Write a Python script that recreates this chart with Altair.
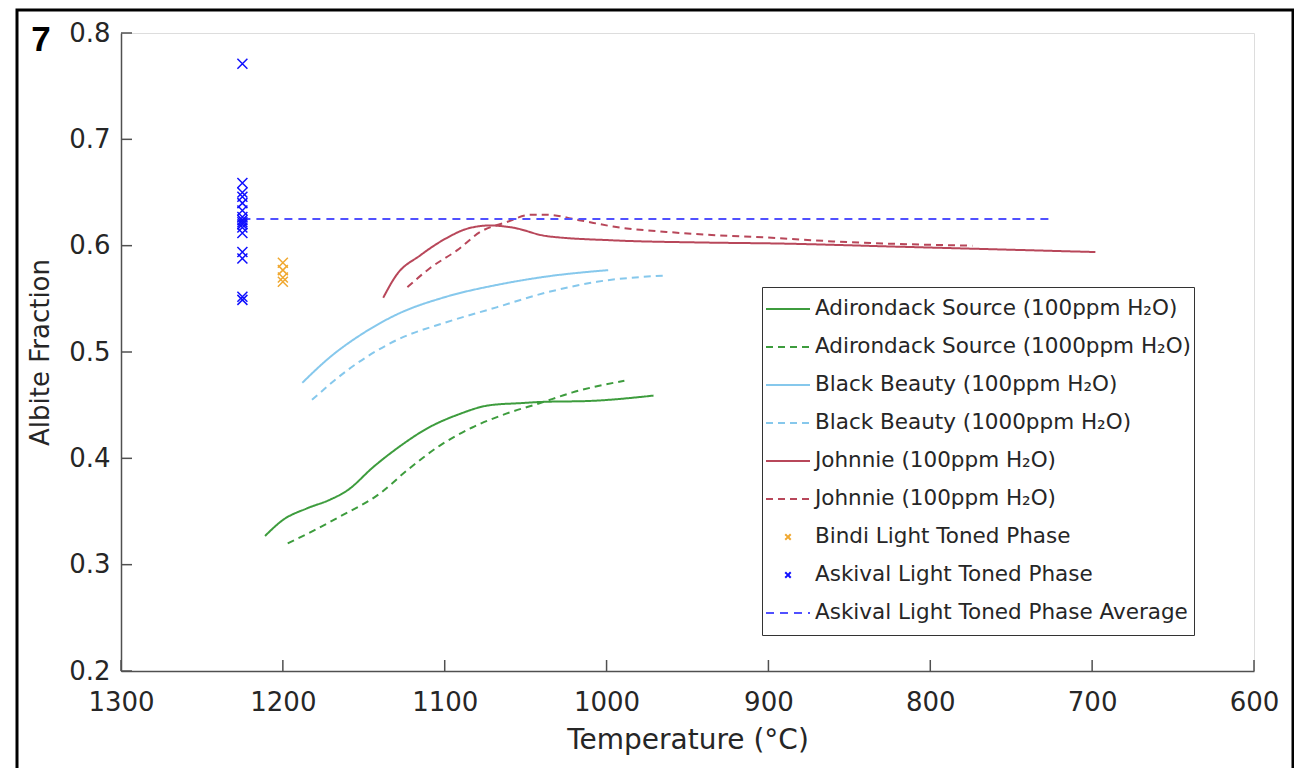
import altair as alt
import pandas as pd

# ---------------- data ----------------
ad100_T = [1211, 1200, 1185, 1171, 1160, 1144, 1128, 1111, 1092, 1072, 1052, 1041, 1010, 971]
ad100_y = [0.327, 0.342, 0.353, 0.361, 0.370, 0.392, 0.411, 0.428, 0.441, 0.450, 0.452, 0.453, 0.454, 0.459]

ad1000_T = [1197, 1181, 1165, 1140, 1123, 1103, 1083, 1062, 1041, 1021, 989]
ad1000_y = [0.320, 0.332, 0.345, 0.367, 0.389, 0.412, 0.429, 0.442, 0.452, 0.462, 0.473]

bb100_T = [1188, 1171, 1150, 1130, 1099, 1068, 1037, 999]
bb100_y = [0.471, 0.495, 0.518, 0.535, 0.552, 0.563, 0.571, 0.577]

bb1000_T = [1182, 1160, 1130, 1099, 1068, 1037, 1006, 963]
bb1000_y = [0.455, 0.483, 0.511, 0.528, 0.542, 0.556, 0.566, 0.572]

jo100_T = [1138, 1130, 1115, 1099, 1086, 1072, 1058, 1037, 996, 942, 893, 819, 698]
jo100_y = [0.551, 0.572, 0.591, 0.607, 0.616, 0.619, 0.617, 0.609, 0.605, 0.603, 0.602, 0.599, 0.594]

jo100b_T = [1123, 1109, 1092, 1078, 1062, 1047, 1037, 1017, 996, 955, 893, 860, 774]
jo100b_y = [0.561, 0.579, 0.596, 0.613, 0.622, 0.629, 0.629, 0.624, 0.618, 0.612, 0.607, 0.604, 0.600]

bindi_T = [1200, 1200, 1200, 1200]
bindi_y = [0.584, 0.577, 0.570, 0.566]

askival_T = [1225] * 16
askival_y = [0.771, 0.659, 0.650, 0.646, 0.640, 0.633, 0.627, 0.624, 0.622, 0.620,
             0.617, 0.612, 0.594, 0.588, 0.552, 0.549]

avg_T = [1225, 727]
avg_y = [0.625, 0.625]

x_ticks = [1300, 1200, 1100, 1000, 900, 800, 700, 600]
y_ticks = [0.2, 0.3, 0.4, 0.5, 0.6, 0.7, 0.8]

keys = ["s0", "s1", "s2", "s3", "s4", "s5", "s6", "s7", "s8"]
labels = [
    "Adirondack Source (100ppm H₂O)",
    "Adirondack Source (1000ppm H₂O)",
    "Black Beauty (100ppm H₂O)",
    "Black Beauty (1000ppm H₂O)",
    "Johnnie (100ppm H₂O)",
    "Johnnie (100ppm H₂O)",
    "Bindi Light Toned Phase",
    "Askival Light Toned Phase",
    "Askival Light Toned Phase Average",
]
colors = ["#3d9c3d", "#3d9c3d", "#86c8ec", "#86c8ec", "#b8475a", "#b8475a",
          "#f0a830", "#1010ff", "#5050ff"]
XPATH = "M-0.125,-0.125L0.125,0.125M-0.125,0.125L0.125,-0.125"
shapes = ["stroke"] * 6 + [XPATH, XPATH, "stroke"]
dashes = [[1, 0], [7, 5], [1, 0], [7, 5], [1, 0], [7, 5], [1, 0], [1, 0], [8, 6]]

# ---------------- tables ----------------
line_rows = []
for key, T, Y in [("s0", ad100_T, ad100_y), ("s1", ad1000_T, ad1000_y),
                  ("s2", bb100_T, bb100_y), ("s3", bb1000_T, bb1000_y),
                  ("s4", jo100_T, jo100_y), ("s5", jo100b_T, jo100b_y),
                  ("s8", avg_T, avg_y)]:
    for i, (t, y) in enumerate(zip(T, Y)):
        line_rows.append({"series": key, "T": t, "A": y, "idx": i})
lines_df = pd.DataFrame(line_rows)

pt_rows = []
for key, T, Y in [("s6", bindi_T, bindi_y), ("s7", askival_T, askival_y)]:
    for t, y in zip(T, Y):
        pt_rows.append({"series": key, "T": t, "A": y})
pts_df = pd.DataFrame(pt_rows)

W, H = 1133, 638
FONT = "DejaVu Sans"
TXT = "#262626"
AX = "#505050"

label_expr = "[" + ",".join("'" + l + "'" for l in labels) + "][indexof([" + \
    ",".join("'" + k + "'" for k in keys) + "], datum.label)]"

legend = alt.Legend(
    title=None, orient="none", legendX=641, legendY=254,
    labelExpr=label_expr, labelFont=FONT, labelFontSize=21.5, labelColor=TXT,
    symbolSize=1936, symbolStrokeWidth=2, labelOffset=4,
    padding=3, rowPadding=0, clipHeight=38,
    strokeColor="#333333", fillColor="white", labelLimit=600,
)

xscale = alt.Scale(domain=[600, 1300], reverse=True, nice=False, zero=False)
yscale = alt.Scale(domain=[0.2, 0.8], nice=False, zero=False)
xaxis = alt.Axis(values=x_ticks, format="d", title="Temperature (°C)", grid=False, ticks=False,
                 labelFont=FONT, labelFontSize=26, labelColor=TXT, labelPadding=18,
                 titleFont=FONT, titleFontSize=28, titleFontWeight="normal", titleColor=TXT,
                 titlePadding=11, domainColor=AX, domainWidth=1.5, labelFlush=False)
yaxis = alt.Axis(values=y_ticks, format=".1f", title="Albite Fraction", grid=False, ticks=False,
                 labelFont=FONT, labelFontSize=26, labelColor=TXT, labelPadding=11,
                 titleFont=FONT, titleFontSize=26, titleFontWeight="normal", titleColor=TXT,
                 titlePadding=15, domainColor=AX, domainWidth=1.5, labelFlush=False)

color = alt.Color("series:N", scale=alt.Scale(domain=keys, range=colors), legend=legend)
dash = alt.StrokeDash("series:N", scale=alt.Scale(domain=keys, range=dashes), legend=legend)
shape = alt.Shape("series:N", scale=alt.Scale(domain=keys, range=shapes), legend=legend)

lines = alt.Chart(lines_df).mark_line(strokeWidth=2, interpolate="monotone").encode(
    x=alt.X("T:Q", scale=xscale, axis=xaxis),
    y=alt.Y("A:Q", scale=yscale, axis=yaxis),
    color=color, strokeDash=dash,
    order=alt.Order("idx:Q"),
)

points = alt.Chart(pts_df).mark_point(size=6400, filled=False, strokeWidth=1.5, opacity=1).encode(
    x=alt.X("T:Q", scale=xscale, axis=xaxis),
    y=alt.Y("A:Q", scale=yscale, axis=yaxis),
    color=color, shape=shape,
)

xt = alt.Chart(pd.DataFrame({"t": x_ticks})).mark_rule(color=AX, strokeWidth=1.5).encode(
    x=alt.X("t:Q", scale=xscale, axis=xaxis), y=alt.value(H), y2=alt.value(H - 11))
yt = alt.Chart(pd.DataFrame({"v": y_ticks})).mark_rule(color=AX, strokeWidth=1.5).encode(
    y=alt.Y("v:Q", scale=yscale, axis=yaxis), x=alt.value(0), x2=alt.value(11))

one = pd.DataFrame({"k": [0]})
frame = alt.Chart(one).mark_rect(filled=False, stroke="black", strokeWidth=3).encode(
    x=alt.value(-104), x2=alt.value(1172), y=alt.value(-23), y2=alt.value(760))
panel = alt.Chart(one).mark_text(font="Liberation Sans", fontWeight="bold", fontSize=35,
                                 color="black", align="center", baseline="middle").encode(
    x=alt.value(-80), y=alt.value(7), text=alt.value("7"))

chart = alt.layer(frame, xt, yt, lines, points, panel).properties(
    width=W, height=H,
    autosize=alt.AutoSizeParams(type="none"),
    padding={"left": 113, "top": 25, "right": 40, "bottom": 97},
).configure_view(stroke=None).configure(background="white")

chart.save("out.html", embed_options={"renderer": "svg", "actions": False})
